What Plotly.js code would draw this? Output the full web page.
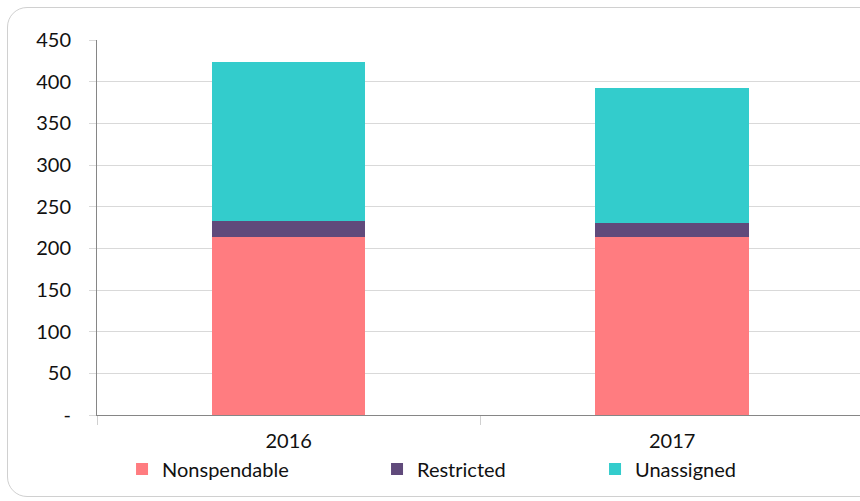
<!DOCTYPE html>
<html><head><meta charset="utf-8">
<script src="https://cdn.plot.ly/plotly-3.0.1.min.js"></script>
<style>
html,body{margin:0;padding:0;background:#fff;}
#wrap{position:relative;width:860px;height:501px;overflow:hidden;}
#frame{position:absolute;left:7px;top:7px;width:880px;height:490px;border:1px solid #d0d0d0;border-radius:20px;box-sizing:border-box;pointer-events:none;z-index:2;}
#chart{position:absolute;left:0;top:0;width:860px;height:501px;}
</style></head>
<body><div id="wrap"><div id="chart"></div><div id="frame"></div></div>
<script>
const years = ['2016', '2017'];
const nonspendable = [214, 214];
const restricted = [19, 17];
const unassigned = [191, 162];
const yTickVals = [0, 50, 100, 150, 200, 250, 300, 350, 400, 450];
const yTickText = ['-', '50', '100', '150', '200', '250', '300', '350', '400', '450'];

const font = 'Lato, "Open Sans", sans-serif';
function tr(name, y, color, legend){
  return {type:'bar', name:name, x:years, y:y, marker:{color:color, line:{width:0}},
    width:0.4, legend:legend, hoverinfo:'y'};
}
const data = [
  tr('Nonspendable', nonspendable, '#FF7C80', 'legend'),
  tr('Restricted', restricted, '#604A7B', 'legend2'),
  tr('Unassigned', unassigned, '#33CCCC', 'legend3')
];
const legBase = {orientation:'h', xanchor:'left', yanchor:'middle',
  xref:'container', yref:'container', y:0.064,
  font:{family:font, size:20, color:'#111'}, bgcolor:'rgba(0,0,0,0)', itemwidth:30,
  traceorder:'normal'};
const layout = {
  width:860, height:501,
  margin:{l:97, r:0, t:40, b:86},
  paper_bgcolor:'#fff', plot_bgcolor:'#fff',
  barmode:'stack', showlegend:true,
  xaxis:{type:'category', range:[-0.5, 1.49], showgrid:false, automargin:false,
    showline:true, linecolor:'#868686', linewidth:1,
    ticks:'outside', tickson:'boundaries', ticklen:9, tickcolor:'#d0d0d0',
    ticklabelstandoff:8,
    tickfont:{family:font, size:20, color:'#111'}, fixedrange:true},
  yaxis:{range:[0,450], tickvals:yTickVals, ticktext:yTickText, automargin:false,
    showgrid:true, gridcolor:'#d9d9d9', gridwidth:1,
    showline:true, linecolor:'#868686', linewidth:1,
    ticks:'outside', ticklen:7, tickcolor:'#d9d9d9', ticklabelstandoff:14,
    tickfont:{family:font, size:20, color:'#111'}, zeroline:false, fixedrange:true},
  legend:Object.assign({}, legBase, {x:0.1419}),
  legend2:Object.assign({}, legBase, {x:0.4384}),
  legend3:Object.assign({}, legBase, {x:0.6919})
};
Plotly.newPlot('chart', data, layout, {displayModeBar:false, staticPlot:true});
</script></body></html>
